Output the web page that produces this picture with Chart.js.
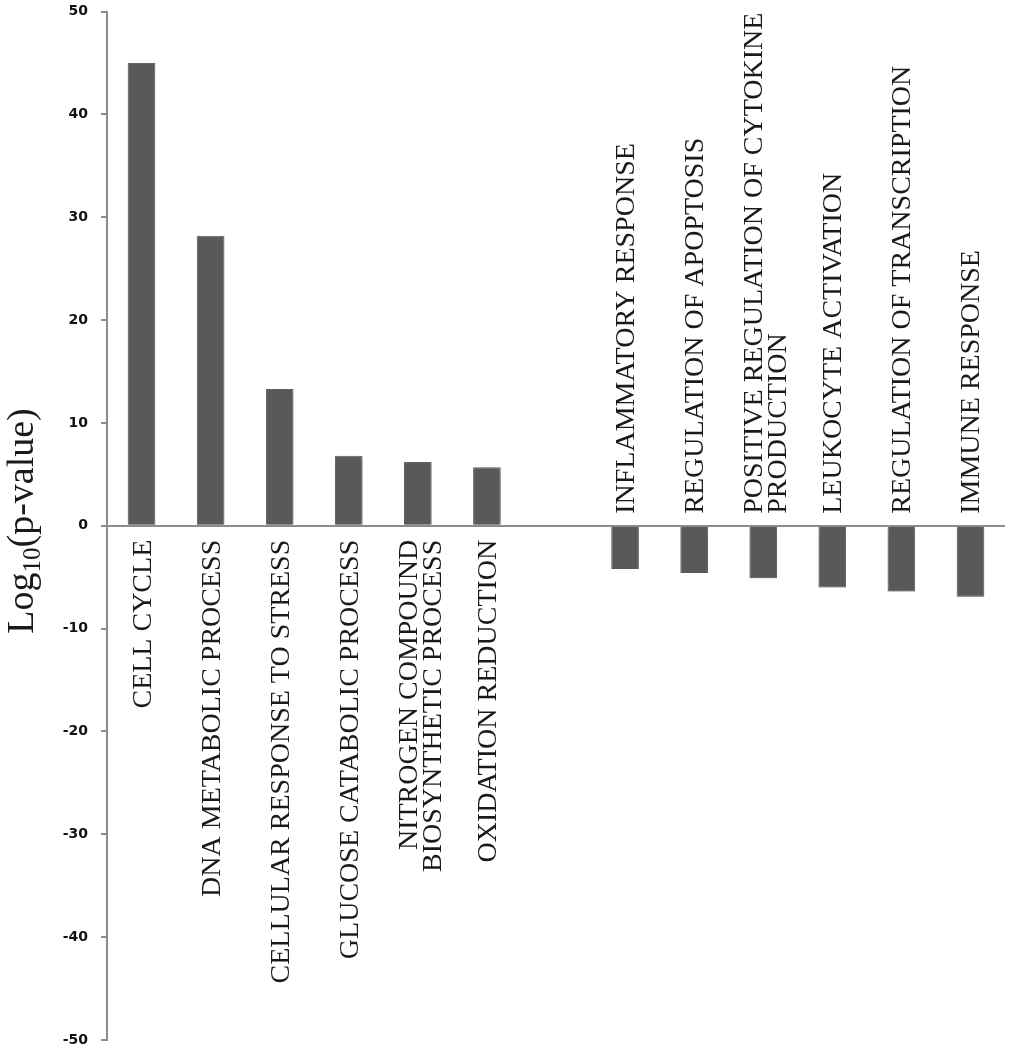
<!DOCTYPE html>
<html>
<head>
<meta charset="utf-8">
<script src="https://cdn.jsdelivr.net/npm/chart.js@4/dist/chart.umd.min.js"></script>
<style>
  html, body { margin: 0; padding: 0; background: #fff; }
  #wrap { width: 1009px; height: 1050px; position: relative; }
</style>
</head>
<body>
<div id="wrap"><canvas id="goChart"></canvas></div>
<script>
// GO terms (empty slot separates up- and down-regulated groups)
const categories = [
    ["CELL CYCLE"],
    ["DNA METABOLIC PROCESS"],
    ["CELLULAR RESPONSE TO STRESS"],
    ["GLUCOSE CATABOLIC PROCESS"],
    ["NITROGEN COMPOUND", "BIOSYNTHETIC PROCESS"],
    ["OXIDATION REDUCTION"],
    [""],
    ["INFLAMMATORY RESPONSE"],
    ["REGULATION OF APOPTOSIS"],
    ["POSITIVE REGULATION OF CYTOKINE", "PRODUCTION"],
    ["LEUKOCYTE ACTIVATION"],
    ["REGULATION OF TRANSCRIPTION"],
    ["IMMUNE RESPONSE"]
];
const logPValues = [45.0, 28.2, 13.3, 6.8, 6.2, 5.7, null, -4.2, -4.6, -5.1, -6.0, -6.4, -6.9];
const yTicks = [-50, -40, -30, -20, -10, 0, 10, 20, 30, 40, 50];

const AXIS_GRAY = "#8c8c8c";
const BAR_GRAY = "#595959";

// Rotated category labels next to the zero line
const termLabels = {
    id: "termLabels",
    afterDatasetsDraw(chart) {
        const ctx = chart.ctx;
        const xs = chart.scales.x;
        const ys = chart.scales.y;
        const y0 = ys.getPixelForValue(0);
        const lineH = 24;
        ctx.save();
        ctx.font = "28px 'Liberation Serif', 'Times New Roman', serif";
        ctx.fillStyle = "#1a1a1a";
        ctx.textBaseline = "alphabetic";
        categories.forEach((lines, i) => {
            const v = logPValues[i];
            if (v === null) return;
            const x = xs.getPixelForValue(i);
            ctx.save();
            if (v >= 0) {
                ctx.translate(x, y0 + 14);
                ctx.rotate(-Math.PI / 2);
                ctx.textAlign = "right";
            } else {
                ctx.translate(x, y0 - 12);
                ctx.rotate(-Math.PI / 2);
                ctx.textAlign = "left";
            }
            const n = lines.length;
            lines.forEach((t, k) => {
                const off = (k - (n - 1) / 2) * lineH + 9 + (n > 1 ? 2 : 0);
                ctx.fillText(t, 0, off);
            });
            ctx.restore();
        });
        ctx.restore();
    }
};

// Y axis title with subscript
const yTitle = {
    id: "yTitle",
    afterDraw(chart) {
        const ctx = chart.ctx;
        const big = "38px 'Liberation Serif', 'Times New Roman', serif";
        const small = "25px 'Liberation Serif', 'Times New Roman', serif";
        const parts = [["Log", big, 0], ["10", small, 7], ["(p-value)", big, 0]];
        ctx.save();
        let total = 0;
        parts.forEach(p => { ctx.font = p[1]; total += ctx.measureText(p[0]).width; });
        ctx.translate(33, 521);
        ctx.rotate(-Math.PI / 2);
        ctx.fillStyle = "#1a1a1a";
        ctx.textAlign = "left";
        ctx.textBaseline = "alphabetic";
        let cx = -total / 2;
        parts.forEach(p => {
            ctx.font = p[1];
            ctx.fillText(p[0], cx, p[2]);
            cx += ctx.measureText(p[0]).width;
        });
        ctx.restore();
    }
};

// soft shadow under bars
const barShadow = {
    id: "barShadow",
    beforeDatasetDraw(chart) {
        const ctx = chart.ctx;
        ctx.save();
        ctx.shadowColor = "rgba(0,0,0,0.22)";
        ctx.shadowBlur = 4;
        ctx.shadowOffsetY = 2;
    },
    afterDatasetDraw(chart) {
        chart.ctx.restore();
    }
};

new Chart(document.getElementById("goChart"), {
    type: "bar",
    data: {
        labels: categories.map(c => c.join(" ")),
        datasets: [{
            data: logPValues,
            backgroundColor: BAR_GRAY,
            borderColor: "#666",
            borderWidth: 1,
            barPercentage: 0.4,
            categoryPercentage: 1.0
        }]
    },
    options: {
        responsive: true,
        maintainAspectRatio: false,
        animation: false,
        layout: { padding: { top: 11.5, bottom: 10, right: 4, left: 0 } },
        plugins: {
            legend: { display: false },
            tooltip: { enabled: false }
        },
        scales: {
            x: {
                display: false
            },
            y: {
                min: -50,
                max: 50,
                afterFit(scale) {
                    scale.width = 107;
                    scale.paddingTop = 0;
                    scale.paddingBottom = 0;
                },
                afterBuildTicks(scale) { scale.ticks = yTicks.map(v => ({ value: v })); },
                border: { display: true, color: AXIS_GRAY, width: 2 },
                grid: {
                    drawOnChartArea: true,
                    color: c => (c.tick && c.tick.value === 0 ? AXIS_GRAY : "rgba(0,0,0,0)"),
                    lineWidth: 2,
                    tickColor: AXIS_GRAY,
                    tickLength: 6
                },
                ticks: {
                    padding: 13,
                    color: "#111",
                    font: { family: "'DejaVu Sans', sans-serif", size: 14, weight: "bold" }
                }
            }
        }
    },
    plugins: [barShadow, termLabels, yTitle]
});
</script>
</body>
</html>
